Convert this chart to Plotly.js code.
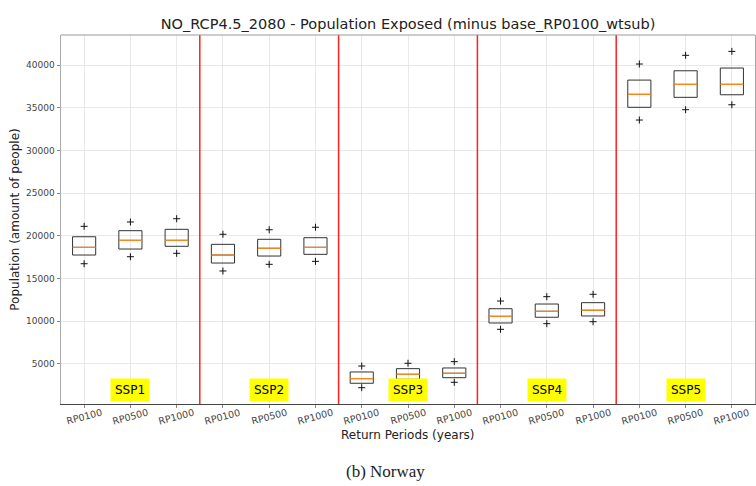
<!DOCTYPE html>
<html>
<head>
<meta charset="utf-8">
<script src="https://cdn.plot.ly/plotly-3.0.1.min.js"></script>
<style>
html,body{margin:0;padding:0;background:#fff;}
#chart{width:756px;height:486px;}
</style>
</head>
<body>
<div id="chart"></div>
<script>
// Data
const scenarios = ["SSP1", "SSP2", "SSP3", "SSP4", "SSP5"];
const returnPeriods = ["RP0100", "RP0500", "RP1000"];
const q1Values     = [17750, 18450, 18770, 16810, 17630, 17830, 2730, 3200, 3380, 9790, 10460, 10610, 35050, 36220, 36520];
const medianValues = [18650, 19470, 19470, 17750, 18540, 18650, 3270, 3780, 3900, 10570, 11160, 11280, 36570, 37740, 37740];
const q3Values     = [19890, 20600, 20760, 19000, 19590, 19780, 4050, 4440, 4520, 11460, 12010, 12170, 38240, 39330, 39650];
const lowOutliers  = [16730, 17550, 17950, 15880, 16660, 17010, 2210, 2600, 2840, 9050, 9710, 9940, 33560, 34770, 35350];
const highOutliers = [21110, 21620, 22000, 20180, 20710, 21000, 4750, 5070, 5260, 12360, 12870, 13150, 40120, 41140, 41600];
const yTickValues  = [5000, 10000, 15000, 20000, 25000, 30000, 35000, 40000];
const yTickText    = ["5000", "10000", "15000", "20000", "25000", "30000", "35000", "40000"];

const xIdx = [];
const xText = [];
scenarios.forEach((s, si) => returnPeriods.forEach((rp, ri) => {
  xIdx.push(si * returnPeriods.length + ri);
  xText.push(rp);
}));

const halfW = 0.25;
const medX = [], medY = [];
xIdx.forEach((x, i) => { medX.push(x - halfW, x + halfW, null); medY.push(medianValues[i], medianValues[i], null); });

const traces = [
  {
    type: "box", x: xIdx, q1: q1Values, median: medianValues, q3: q3Values,
    lowerfence: q1Values, upperfence: q3Values,
    width: 0.5, whiskerwidth: 0, boxpoints: false,
    fillcolor: "rgba(0,0,0,0)", line: {color: "#333", width: 1},
    hoverinfo: "skip", showlegend: false
  },
  {
    type: "scatter", mode: "lines", x: medX, y: medY,
    line: {color: "#ff8c1a", width: 1.2}, hoverinfo: "skip", showlegend: false
  },
  {
    type: "scatter", mode: "markers",
    x: xIdx.concat(xIdx), y: lowOutliers.concat(highOutliers),
    marker: {symbol: "cross-thin", size: 5, color: "#000", line: {color: "#111", width: 1}},
    hoverinfo: "skip", showlegend: false
  }
];

const shapes = [];
for (let k = 1; k < scenarios.length; k++) {
  const xv = k * returnPeriods.length - 0.5;
  shapes.push({type: "line", xref: "x", yref: "paper", x0: xv, x1: xv, y0: 0, y1: 1,
    line: {color: "#ff2020", width: 1.5}});
}
shapes.push({type: "line", xref: "paper", yref: "paper", x0: 0, x1: 1, y0: 1, y1: 1,
  line: {color: "#999", width: 1}});

const annotations = scenarios.map((s, si) => ({
  x: si * returnPeriods.length + 1, y: 1900, xref: "x", yref: "y",
  text: s, showarrow: false, bgcolor: "#ffff00", borderpad: 4,
  font: {family: "DejaVu Sans", size: 12, color: "#000"}
}));
// rotated tick labels centred under each tick (matplotlib style)
xIdx.forEach((x, i) => annotations.push({
  x: x, y: -0.034, xref: "x", yref: "paper", xanchor: "center", yanchor: "middle",
  text: xText[i], textangle: -15, showarrow: false,
  font: {family: "DejaVu Sans", size: 9.5, color: "#444"}
}));
annotations.push({
  x: 0.5, y: -0.084, xref: "paper", yref: "paper", xanchor: "center", yanchor: "middle",
  text: "Return Periods (years)", showarrow: false,
  font: {family: "DejaVu Sans", size: 12, color: "#222"}
});
annotations.push({
  x: 0.468, y: -0.182, xref: "paper", yref: "paper", xanchor: "center", yanchor: "middle",
  text: "(b) Norway", showarrow: false,
  font: {family: "Liberation Serif, DejaVu Serif, serif", size: 17, color: "#222"}
});

const layout = {
  width: 756, height: 486,
  margin: {l: 61, r: 1, t: 35, b: 82},
  paper_bgcolor: "#fff", plot_bgcolor: "#fff",
  font: {family: "DejaVu Sans", color: "#333"},
  title: {text: "NO_RCP4.5_2080 - Population Exposed (minus base_RP0100_wtsub)",
    font: {family: "DejaVu Sans", size: 14.5, color: "#222"},
    xref: "paper", x: 0.5, xanchor: "center", yref: "container", y: 0.951, yanchor: "middle"},
  xaxis: {
    range: [-0.5, 14.5], tickmode: "array", tickvals: xIdx, showticklabels: false,
    showgrid: true, gridcolor: "#e8e8e8", zeroline: false,
    showline: true, linecolor: "#444", linewidth: 1,
    ticks: "outside", ticklen: 3, tickcolor: "#888"
  },
  yaxis: {
    range: [300, 43520], tickmode: "array", tickvals: yTickValues, ticktext: yTickText,
    tickfont: {size: 9, color: "#444"},
    showgrid: true, gridcolor: "#e8e8e8", zeroline: false,
    showline: true, linecolor: "#aaa", linewidth: 1.5, mirror: true,
    ticks: "outside", ticklen: 3, tickcolor: "#888",
    title: {text: "Population (amount of people)", font: {size: 12, color: "#222"}, standoff: 4}
  },
  shapes: shapes,
  annotations: annotations
};

Plotly.newPlot("chart", traces, layout, {displayModeBar: false, staticPlot: true});
</script>
</body>
</html>
